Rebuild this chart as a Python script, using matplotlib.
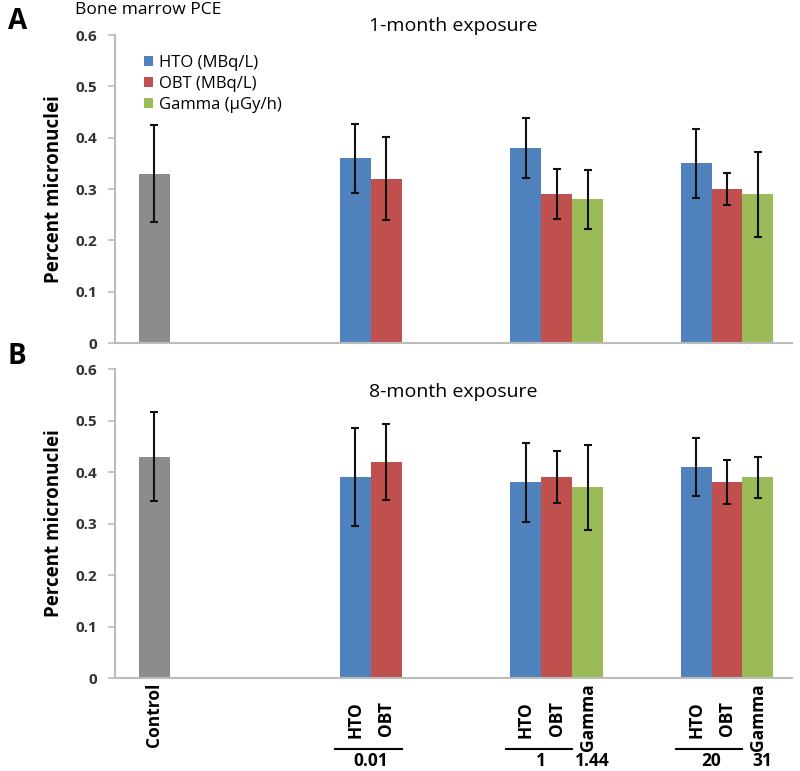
# Bone marrow PCE micronuclei, 1-month and 8-month exposure

import matplotlib.pyplot as plt
from matplotlib.transforms import blended_transform_factory

# data
labels = ['Control', 'HTO', 'OBT', 'HTO', 'OBT', 'Gamma', 'HTO', 'OBT', 'Gamma']
kinds = ['ctrl', 'hto', 'obt', 'hto', 'obt', 'gam', 'hto', 'obt', 'gam']
month1 = [0.33, 0.36, 0.32, 0.38, 0.29, 0.28, 0.35, 0.30, 0.29]
month1_err = [0.095, 0.067, 0.081, 0.058, 0.049, 0.057, 0.067, 0.032, 0.083]
month8 = [0.43, 0.39, 0.42, 0.38, 0.39, 0.37, 0.41, 0.38, 0.39]
month8_err = [0.087, 0.095, 0.074, 0.077, 0.050, 0.082, 0.056, 0.043, 0.040]
# dose labels under the groups: (text, first bar index, last bar index, underline)
doses = [('0.01', 1, 2, True), ('1', 3, 4, True), ('1.44', 5, 5, False),
         ('20', 6, 7, True), ('31', 8, 8, False)]

colors = {'ctrl': '#8c8c8c', 'hto': '#4f81bd', 'obt': '#c0504d', 'gam': '#9bbb59'}
legend_names = {'hto': 'HTO (MBq/L)', 'obt': 'OBT (MBq/L)', 'gam': 'Gamma (µGy/h)'}

# bar positions: control, then three groups
x = [0, 6.5, 7.5, 12.0, 13.0, 14.0, 17.5, 18.5, 19.5]

plt.rcParams['font.family'] = ['Open Sans', 'DejaVu Sans']
fig = plt.figure(figsize=(8, 7.71), dpi=100)
axA = fig.add_axes([0.144, 0.555, 0.846, 0.3996])
axB = fig.add_axes([0.144, 0.1206, 0.846, 0.4008])

def draw(ax, vals, errs, title, title_y):
    for xi, v, e, k in zip(x, vals, errs, kinds):
        ax.bar(xi, v, width=1.0, color=colors[k], yerr=e,
               error_kw=dict(ecolor='#111111', elinewidth=1.5, capsize=3, capthick=1.5),
               label=legend_names.get(k, '_nolegend_'))
    ax.set_xlim(-1.26, 20.6)
    ax.set_ylim(0, 0.6)
    ax.set_yticks([0, 0.1, 0.2, 0.3, 0.4, 0.5, 0.6])
    ax.set_yticklabels(['0', '0.1', '0.2', '0.3', '0.4', '0.5', '0.6'],
                       fontsize=11, fontweight='bold', color='#333333')
    ax.set_xticks([])
    for s in ['top', 'right']:
        ax.spines[s].set_visible(False)
    for s in ['left', 'bottom']:
        ax.spines[s].set_color('#bbbbbb')
        ax.spines[s].set_linewidth(1.5)
    ax.tick_params(axis='y', length=5, color='#bbbbbb', width=1.2, pad=8)
    ax.set_ylabel('Percent micronuclei', fontsize=13.5, fontweight='bold', labelpad=8)
    ax.text(0.5, title_y, title, fontsize=14, ha='center', va='center',
            transform=ax.transAxes)

draw(axA, month1, month1_err, '1-month exposure', 1.03)
draw(axB, month8, month8_err, '8-month exposure', 0.925)

# legend with one entry per series
h, l = axA.get_legend_handles_labels()
seen = {}
for hh, ll in zip(h, l):
    seen.setdefault(ll, hh)
axA.legend(seen.values(), seen.keys(), loc='upper left', bbox_to_anchor=(0.02, 0.985),
           frameon=False, fontsize=12, handlelength=0.55, handleheight=0.55,
           handletextpad=0.35, labelspacing=0.3)

fig.text(0.01, 0.972, 'A', fontsize=20, fontweight='bold', va='center')
fig.text(0.01, 0.538, 'B', fontsize=20, fontweight='bold', va='center')
fig.text(0.094, 0.987, 'Bone marrow PCE', fontsize=12.5, va='center')

# category labels under panel B
tr = blended_transform_factory(axB.transData, axB.transAxes)
for xi, lab, k in zip(x, labels, kinds):
    top = -0.016 if k in ('ctrl', 'gam') else -0.075
    axB.text(xi, top, lab, rotation=90, ha='center', va='top', fontsize=12.5,
             fontweight='bold', transform=tr, clip_on=False)
for txt, i0, i1, line in doses:
    if line:
        axB.plot([x[i0] - 0.65, x[i1] + 0.5], [-0.229, -0.229], color='black',
                 lw=1.5, transform=tr, clip_on=False)
        cx = (x[i0] + x[i1]) / 2
    else:
        cx = x[i0] + 0.15
    axB.text(cx, -0.268, txt, ha='center', va='center', fontsize=12.5,
             fontweight='bold', transform=tr, clip_on=False)

fig.savefig('out.png', dpi=100)
